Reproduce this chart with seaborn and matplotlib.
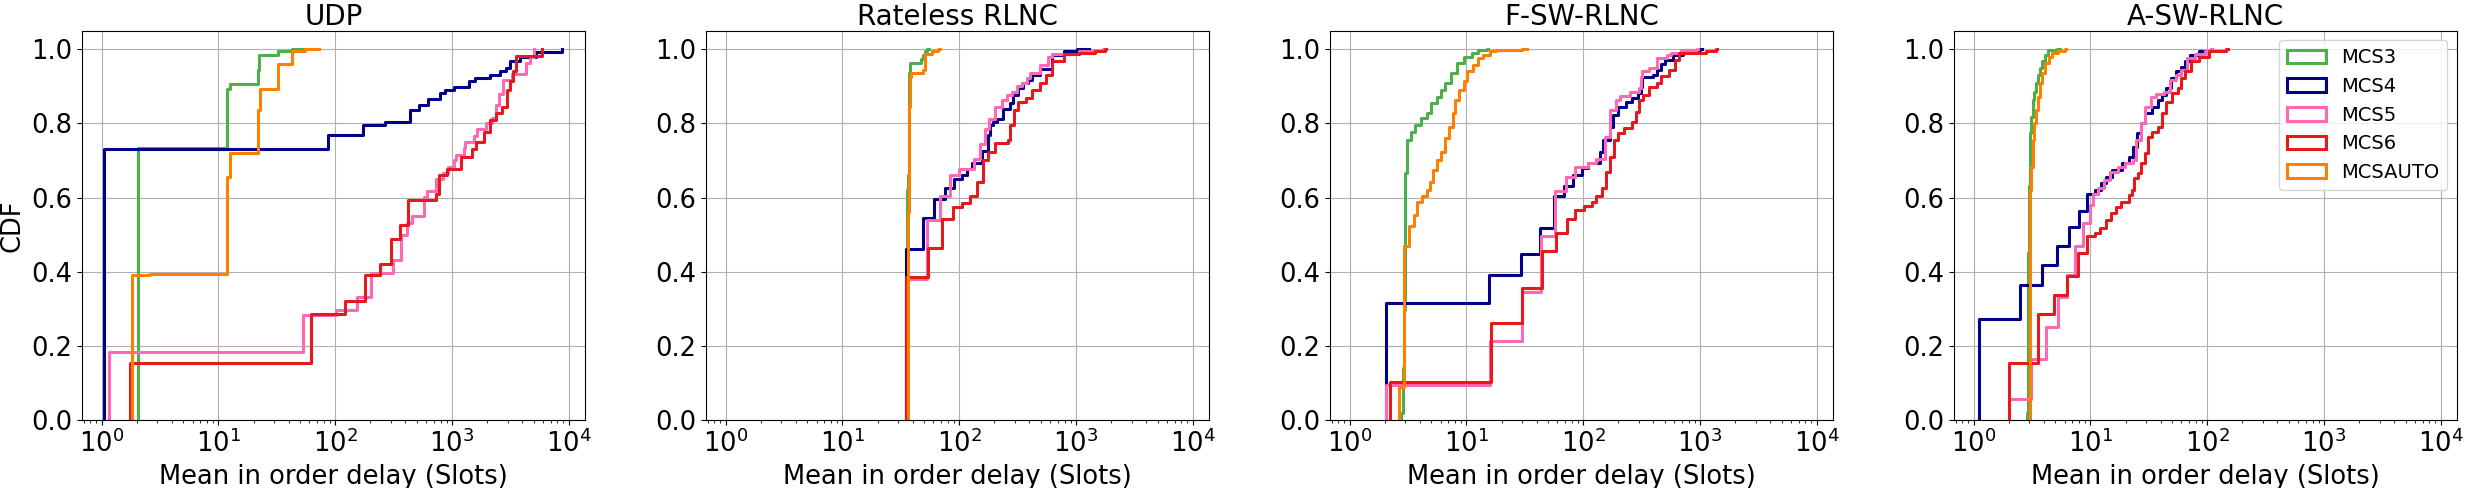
import numpy as np
import pandas as pd
import matplotlib
matplotlib.use("Agg")
import matplotlib.pyplot as plt
import matplotlib.patches as mpatches
from matplotlib.ticker import FormatStrFormatter
import seaborn as sns

# ---------------- data (step positions and CDF level after each step) ----------------
panel_titles = ["UDP", "Rateless RLNC", "F-SW-RLNC", "A-SW-RLNC"]
series_names = ["MCS3", "MCS4", "MCS5", "MCS6", "MCSAUTO"]
series_colors = ["#4daf4a", "#00008b", "#ff69b4", "#e41a1c", "#ff7f00"]
y_ticks = [0.0, 0.2, 0.4, 0.6, 0.8, 1.0]

# UDP
udp_mcs3_x = [2.06, 11.8, 12.6, 21.8, 22.3, 32.2, 42.4, 55.0]
udp_mcs3_cdf = [0.733, 0.893, 0.906, 0.944, 0.985, 0.995, 1.0, 1.0]
udp_mcs4_x = [1.047, 87.5, 174.5, 268, 438, 524, 621, 793, 875, 1045, 1413, 1581, 2100, 2580, 2900, 3150, 3820, 5240, 8700, 8830]
udp_mcs4_cdf = [0.732, 0.770, 0.795, 0.804, 0.836, 0.850, 0.865, 0.881, 0.890, 0.898, 0.914, 0.923, 0.931, 0.940, 0.949, 0.969, 0.978, 0.993, 1.0, 1.0]
udp_mcs5_x = [1.155, 52.7, 102, 155, 203, 312, 365, 411, 459, 578, 617, 733, 836, 934, 1045, 1075, 1260, 1290, 1530, 1650, 1950, 2200, 2400, 2550, 2735, 3275, 4300, 4650, 5030, 5050]
udp_mcs5_cdf = [0.184, 0.282, 0.297, 0.332, 0.397, 0.432, 0.498, 0.532, 0.550, 0.602, 0.617, 0.651, 0.665, 0.683, 0.701, 0.716, 0.734, 0.750, 0.766, 0.784, 0.800, 0.814, 0.850, 0.880, 0.917, 0.933, 0.962, 0.980, 1.0, 1.0]
udp_mcs6_x = [1.75, 61.8, 122, 180, 243, 301, 360, 419, 728, 777, 916, 1192, 1500, 1611, 1897, 2133, 2398, 2700, 2985, 3160, 3330, 3540, 5900, 5950]
udp_mcs6_cdf = [0.153, 0.285, 0.320, 0.390, 0.422, 0.489, 0.525, 0.593, 0.609, 0.660, 0.677, 0.710, 0.730, 0.750, 0.778, 0.810, 0.827, 0.843, 0.890, 0.913, 0.940, 0.982, 1.0, 1.0]
udp_mcsauto_x = [1.82, 2.6, 11.9, 12.6, 21.8, 22.5, 32.2, 32.6, 42.4, 55.0, 73.0]
udp_mcsauto_cdf = [0.391, 0.395, 0.656, 0.719, 0.836, 0.892, 0.922, 0.960, 0.994, 1.0, 1.0]

# Rateless RLNC
rl_mcs3_x = [35.6, 36.0, 36.4, 36.8, 37.5, 38.2, 47.3, 49.0, 51.0, 53.0, 55.0]
rl_mcs3_cdf = [0.30, 0.62, 0.66, 0.90, 0.935, 0.964, 0.973, 0.985, 0.995, 1.0, 1.0]
rl_mcs4_x = [35.3, 48.9, 61.1, 75.0, 89.5, 105, 116, 128, 156, 175, 184, 196, 210, 236, 273, 291, 321, 355, 392, 421, 493, 628, 798, 1016, 1290]
rl_mcs4_cdf = [0.460, 0.545, 0.597, 0.626, 0.651, 0.660, 0.676, 0.694, 0.725, 0.768, 0.795, 0.805, 0.813, 0.840, 0.854, 0.877, 0.895, 0.910, 0.917, 0.930, 0.948, 0.984, 0.994, 1.0, 1.0]
rl_mcs5_x = [35.3, 53.0, 67.9, 83.8, 100, 133, 151, 167, 181, 203, 232, 259, 282, 311, 343, 379, 404, 493, 579, 628, 1058, 1700, 1780]
rl_mcs5_cdf = [0.381, 0.539, 0.604, 0.660, 0.678, 0.705, 0.744, 0.784, 0.813, 0.845, 0.863, 0.877, 0.886, 0.900, 0.910, 0.922, 0.935, 0.957, 0.980, 0.987, 0.996, 1.0, 1.0]
rl_mcs6_x = [35.3, 54.0, 71.0, 87.7, 105, 123, 142, 161, 178, 201, 260, 272, 293, 318, 373, 421, 493, 557, 628, 798, 1058, 1458, 1760, 1800]
rl_mcs6_cdf = [0.386, 0.465, 0.543, 0.575, 0.584, 0.604, 0.642, 0.700, 0.724, 0.746, 0.755, 0.796, 0.836, 0.859, 0.868, 0.890, 0.908, 0.930, 0.967, 0.987, 0.991, 0.996, 1.0, 1.0]
rl_mcsauto_x = [36.2, 36.4, 36.8, 37.6, 39.0, 48.5, 50.5, 58.0, 66.0, 69.0]
rl_mcsauto_cdf = [0.076, 0.56, 0.845, 0.926, 0.937, 0.944, 0.987, 0.995, 1.0, 1.0]

# F-SW-RLNC
fs_mcs3_x = [2.73, 2.84, 2.91, 3.0, 3.07, 3.33, 3.61, 4.07, 4.59, 4.97, 5.61, 6.08, 6.59, 7.43, 8.25, 9.46, 11.1, 12.5, 14.9, 15.2]
fs_mcs3_cdf = [0.018, 0.14, 0.297, 0.665, 0.755, 0.778, 0.796, 0.814, 0.827, 0.854, 0.872, 0.890, 0.908, 0.935, 0.962, 0.980, 0.991, 0.998, 1.0, 1.0]
fs_mcs4_x = [2.06, 15.7, 29.3, 42.4, 56.1, 68.6, 82.5, 96.8, 111, 139, 148, 170, 180, 200, 234, 263, 293, 315, 320, 394, 427, 463, 501, 589, 720, 1000, 1033]
fs_mcs4_cdf = [0.315, 0.391, 0.448, 0.519, 0.603, 0.631, 0.661, 0.679, 0.692, 0.724, 0.755, 0.791, 0.823, 0.845, 0.859, 0.868, 0.881, 0.897, 0.925, 0.931, 0.944, 0.960, 0.971, 0.985, 0.998, 1.0, 1.0]
fs_mcs5_x = [2.06, 15.9, 29.8, 43.4, 57.5, 71.9, 85.9, 109, 128, 153, 170, 192, 207, 254, 298, 315, 320, 364, 427, 522, 566, 692, 940, 955]
fs_mcs5_cdf = [0.094, 0.214, 0.346, 0.495, 0.618, 0.656, 0.683, 0.694, 0.703, 0.764, 0.836, 0.863, 0.875, 0.886, 0.895, 0.926, 0.940, 0.949, 0.976, 0.985, 0.991, 0.998, 1.0, 1.0]
fs_mcs6_x = [2.23, 16.2, 29.8, 44.1, 58.9, 73.1, 85.9, 102, 118, 130, 145, 157, 170, 184, 200, 225, 264, 286, 298, 323, 364, 427, 463, 543, 613, 664, 1119, 1368, 1390]
fs_mcs6_cdf = [0.103, 0.261, 0.355, 0.457, 0.504, 0.541, 0.567, 0.577, 0.589, 0.604, 0.625, 0.670, 0.710, 0.755, 0.775, 0.787, 0.805, 0.832, 0.863, 0.877, 0.897, 0.908, 0.928, 0.944, 0.971, 0.989, 0.994, 1.0, 1.0]
fs_mcsauto_x = [2.62, 2.9, 3.2, 3.52, 3.76, 4.17, 4.59, 4.9, 5.18, 5.61, 6.08, 6.59, 7.14, 7.62, 8.05, 8.59, 9.46, 10.2, 11.4, 12.5, 13.8, 15.9, 17.9, 30.0, 32.8]
fs_mcsauto_cdf = [0.09, 0.468, 0.522, 0.553, 0.589, 0.603, 0.620, 0.643, 0.674, 0.701, 0.724, 0.760, 0.791, 0.827, 0.863, 0.890, 0.913, 0.940, 0.958, 0.976, 0.985, 0.996, 0.998, 1.0, 1.0]

# A-SW-RLNC
as_mcs3_x = [2.85, 2.9, 2.96, 3.05, 3.12, 3.19, 3.31, 3.44, 3.58, 3.72, 3.86, 4.07, 4.33, 5.2, 5.44]
as_mcs3_cdf = [0.02, 0.45, 0.63, 0.773, 0.818, 0.863, 0.886, 0.908, 0.931, 0.949, 0.967, 0.985, 0.998, 1.0, 1.0]
as_mcs4_x = [1.11, 2.48, 3.86, 5.16, 6.59, 7.96, 9.42, 11.0, 12.4, 13.6, 15.2, 18.5, 21.5, 23.2, 25.0, 27.0, 29.6, 34.0, 38.1, 41.1, 44.4, 49.0, 53.7, 60.2, 65.0, 71.7, 84.9, 107, 110]
as_mcs4_cdf = [0.272, 0.364, 0.418, 0.468, 0.52, 0.565, 0.609, 0.62, 0.638, 0.656, 0.674, 0.692, 0.71, 0.737, 0.773, 0.80, 0.827, 0.845, 0.863, 0.877, 0.895, 0.922, 0.94, 0.953, 0.967, 0.985, 0.994, 1.0, 1.0]
as_mcs5_x = [2.02, 3.12, 4.16, 5.27, 6.34, 7.38, 8.6, 9.87, 10.6, 11.7, 13.1, 14.7, 17.1, 19.9, 23.2, 24.7, 27.0, 29.2, 32.7, 36.7, 42.7, 47.9, 53.7, 60.2, 66.5, 78.7, 95.1, 107, 110]
as_mcs5_cdf = [0.057, 0.164, 0.25, 0.333, 0.391, 0.469, 0.531, 0.58, 0.609, 0.625, 0.647, 0.67, 0.683, 0.692, 0.701, 0.755, 0.80, 0.845, 0.872, 0.879, 0.886, 0.917, 0.931, 0.944, 0.976, 0.987, 0.994, 1.0, 1.0]
as_mcs6_x = [2.02, 3.53, 4.87, 6.34, 7.85, 9.29, 11.0, 12.1, 13.6, 14.9, 16.5, 18.4, 21.5, 22.8, 23.6, 25.4, 27.0, 29.2, 31.0, 34.0, 38.1, 41.1, 44.4, 49.7, 55.7, 60.2, 65.0, 72.8, 84.9, 103, 145, 150]
as_mcs6_cdf = [0.155, 0.286, 0.337, 0.388, 0.45, 0.495, 0.504, 0.519, 0.54, 0.558, 0.574, 0.589, 0.607, 0.62, 0.652, 0.665, 0.692, 0.719, 0.764, 0.778, 0.791, 0.827, 0.859, 0.881, 0.895, 0.922, 0.94, 0.967, 0.98, 0.994, 1.0, 1.0]
as_mcsauto_x = [3.04, 3.1, 3.19, 3.31, 3.44, 3.58, 3.72, 3.86, 4.1, 4.4, 4.67, 5.24, 6.1, 6.2]
as_mcsauto_cdf = [0.62, 0.683, 0.755, 0.80, 0.836, 0.872, 0.908, 0.935, 0.962, 0.98, 0.989, 0.996, 1.0, 1.0]

panel_series = [
    [(udp_mcs3_x, udp_mcs3_cdf), (udp_mcs4_x, udp_mcs4_cdf), (udp_mcs5_x, udp_mcs5_cdf),
     (udp_mcs6_x, udp_mcs6_cdf), (udp_mcsauto_x, udp_mcsauto_cdf)],
    [(rl_mcs3_x, rl_mcs3_cdf), (rl_mcs4_x, rl_mcs4_cdf), (rl_mcs5_x, rl_mcs5_cdf),
     (rl_mcs6_x, rl_mcs6_cdf), (rl_mcsauto_x, rl_mcsauto_cdf)],
    [(fs_mcs3_x, fs_mcs3_cdf), (fs_mcs4_x, fs_mcs4_cdf), (fs_mcs5_x, fs_mcs5_cdf),
     (fs_mcs6_x, fs_mcs6_cdf), (fs_mcsauto_x, fs_mcsauto_cdf)],
    [(as_mcs3_x, as_mcs3_cdf), (as_mcs4_x, as_mcs4_cdf), (as_mcs5_x, as_mcs5_cdf),
     (as_mcs6_x, as_mcs6_cdf), (as_mcsauto_x, as_mcsauto_cdf)],
]

# ---------------- figure ----------------
W, H = 2467, 488
fig = plt.figure(figsize=(W / 100, H / 100), dpi=100)

ax_w = 503.5 / W
ax_h = 389.3 / H
ax_b = 68.0 / H
lefts = [81.7, 705.7, 1329.7, 1953.7]

TICK_FS = 18.5
LABEL_FS = 18.5
TITLE_FS = 20
LW = 2.2

for p, title in enumerate(panel_titles):
    ax = fig.add_axes([lefts[p] / W, ax_b, ax_w, ax_h])
    ax.set_xscale("log")
    for (xs, cdf), name, col in zip(panel_series[p], series_names, series_colors):
        df = pd.DataFrame({"delay": [xs[0]] + list(xs), "cdf": [0.0] + list(cdf)})
        sns.lineplot(data=df, x="delay", y="cdf", estimator=None, sort=False,
                     drawstyle="steps-post", color=col, linewidth=LW, ax=ax)
    ax.set_xlim(0.674, 13850)
    ax.set_ylim(0, 1.05)
    ax.set_yticks(y_ticks)
    ax.yaxis.set_major_formatter(FormatStrFormatter("%.1f"))
    ax.grid(True, which="major", color="#b0b0b0", linewidth=0.8)
    ax.tick_params(axis="both", which="major", labelsize=TICK_FS)
    ax.set_title(title, fontsize=TITLE_FS, pad=4)
    ax.set_xlabel("Mean in order delay (Slots)", fontsize=LABEL_FS)
    if p == 0:
        ax.set_ylabel("CDF", fontsize=LABEL_FS)
    else:
        ax.set_ylabel("")
    if p == 3:
        handles = [mpatches.Patch(facecolor="none", edgecolor=c, linewidth=LW, label=n)
                   for n, c in zip(series_names, series_colors)]
        ax.legend(handles=handles, loc="upper right", fontsize=14)

fig.savefig("out.png", dpi=100)
